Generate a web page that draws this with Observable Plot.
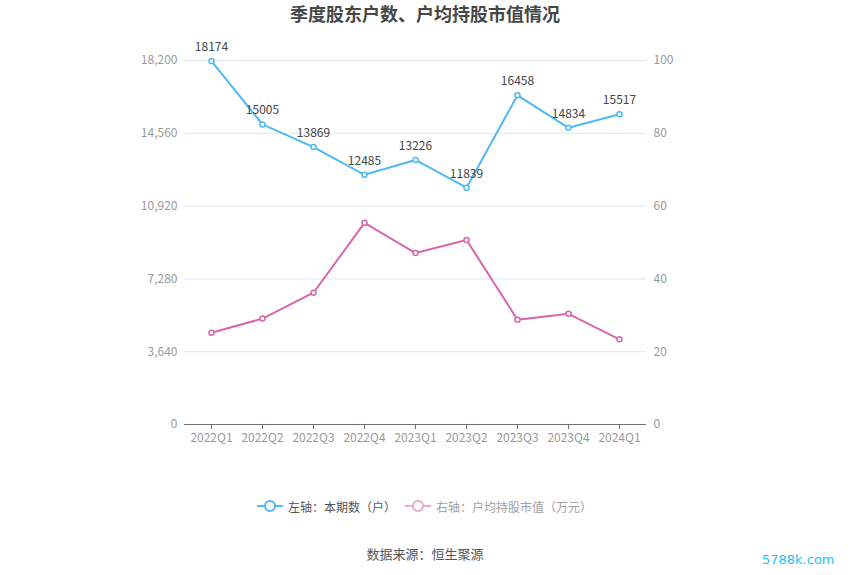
<!DOCTYPE html>
<html>
<head>
<meta charset="utf-8">
<script src="https://cdn.jsdelivr.net/npm/d3@7"></script>
<script src="https://cdn.jsdelivr.net/npm/@observablehq/plot@0.6"></script>
<style>
  body { margin: 0; background: #fff; font-family: "Noto Sans CJK SC", "Noto Sans", sans-serif; }
  #wrap { position: relative; width: 850px; height: 575px; overflow: hidden; }
  #title { position: absolute; top: 0px; left: 0; width: 850px; text-align: center; font-size: 18px; font-weight: bold; color: #464646; line-height: 26px; }
  #chart { position: absolute; top: 30px; left: 0; }
  #legend { position: absolute; top: 496px; left: 0; width: 850px; height: 20px; font-size: 12px; }
  .lg { position: absolute; top: 0; display: flex; align-items: center; height: 20px; }
  #caption { position: absolute; top: 544px; left: 0; width: 850px; text-align: center; font-size: 13px; color: #555; }
  #wm { position: absolute; top: 552px; left: 762px; font-size: 13px; color: #1ec0f0; font-family: "DejaVu Sans", sans-serif; }
</style>
</head>
<body>
<div id="wrap">
  <div id="title">季度股东户数、户均持股市值情况</div>
  <div id="chart"></div>
  <div id="legend">
    <div class="lg" style="left:257px">
      <svg width="26" height="20"><line x1="0" y1="10" x2="26" y2="10" stroke="#4fb9f5" stroke-width="2"/><circle cx="13" cy="10" r="5" fill="#fff" stroke="#4fb9f5" stroke-width="2"/></svg>
      <span style="margin-left:5px;color:#555">左轴：本期数（户）</span>
    </div>
    <div class="lg" style="left:405px">
      <svg width="26" height="20"><line x1="0" y1="10" x2="26" y2="10" stroke="#eba8d3" stroke-width="2"/><circle cx="13" cy="10" r="5" fill="#fff" stroke="#eba8d3" stroke-width="2"/></svg>
      <span style="margin-left:5px;color:#a0a0a0">右轴：户均持股市值（万元）</span>
    </div>
  </div>
  <div id="caption">数据来源：恒生聚源</div>
  <div id="wm">5788k.com</div>
</div>
<script>
const categories = ["2022Q1","2022Q2","2022Q3","2022Q4","2023Q1","2023Q2","2023Q3","2023Q4","2024Q1"];
const holders = [18174, 15005, 13869, 12485, 13226, 11839, 16458, 14834, 15517];
const avgValue = [25.2, 29.1, 36.2, 55.4, 47.1, 50.7, 28.8, 30.4, 23.4];
const leftTicks = [0, 3640, 7280, 10920, 14560, 18200];
const rightTicks = [0, 20, 40, 60, 80, 100];

const leftMax = 18200, rightMax = 100;
const k = leftMax / rightMax;
const blue = "#4fb9f5", pink = "#d766ad";

const dataL = categories.map((c, i) => ({c, v: holders[i]}));
const dataR = categories.map((c, i) => ({c, v: avgValue[i] * k}));

const chart = Plot.plot({
  width: 850,
  height: 440,
  marginTop: 30,
  marginBottom: 46,
  marginLeft: 184,
  marginRight: 204,
  style: {fontFamily: "'Noto Sans CJK SC', 'Noto Sans', sans-serif", fontSize: "12px", background: "transparent"},
  x: {type: "point", domain: categories, padding: 0.5},
  y: {domain: [0, leftMax]},
  marks: [
    Plot.gridY(leftTicks.slice(1), {stroke: "#e0e6f1", strokeOpacity: 1}),
    Plot.ruleY([0], {stroke: "#6e7079"}),
    Plot.axisX({tickSize: 5, tickPadding: 4, stroke: "#6e7079", fill: "#999", fontSize: 12, label: null}),
    Plot.axisY(leftTicks, {anchor: "left", tickSize: 0, tickPadding: 7, tickFormat: d3.format(","), fill: "#999", fontSize: 12, label: null}),
    Plot.axisY(rightTicks.map(v => v * k), {anchor: "right", tickSize: 0, tickPadding: 7, tickFormat: d => String(Math.round(d / k)), fill: "#999", fontSize: 12, label: null}),
    Plot.line(dataR, {x: "c", y: "v", stroke: pink, strokeWidth: 2}),
    Plot.dot(dataR, {x: "c", y: "v", r: 2.5, fill: "#fff", stroke: pink, strokeWidth: 1.5}),
    Plot.line(dataL, {x: "c", y: "v", stroke: blue, strokeWidth: 2}),
    Plot.dot(dataL, {x: "c", y: "v", r: 2.5, fill: "#fff", stroke: blue, strokeWidth: 1.5}),
    Plot.text(dataL, {x: "c", y: "v", text: d => String(d.v), dy: -14, fill: "#444", fontSize: 12})
  ]
});
document.getElementById("chart").appendChild(chart);
</script>
</body>
</html>
